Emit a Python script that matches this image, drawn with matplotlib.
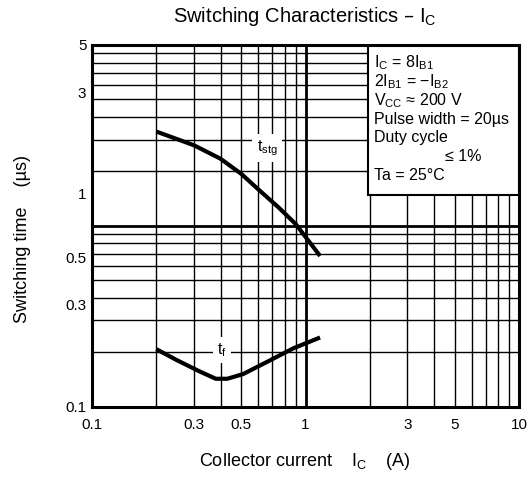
import matplotlib
matplotlib.use('Agg')
import matplotlib.pyplot as plt
from matplotlib.patches import Rectangle

plt.rcParams['font.family'] = ['Liberation Sans', 'DejaVu Sans']
plt.rcParams['mathtext.default'] = 'regular'

# curves
ic_tstg = [0.2, 0.3, 0.4, 0.5, 0.6, 0.75, 0.9, 1.17]
tstg = [1.96, 1.69, 1.46, 1.24, 1.05, 0.86, 0.72, 0.51]

ic_tf = [0.2, 0.25, 0.32, 0.38, 0.43, 0.51, 0.66, 0.88, 1.17]
tf = [0.186, 0.165, 0.146, 0.135, 0.135, 0.142, 0.162, 0.188, 0.211]

x_ticks = [0.1, 0.3, 0.5, 1, 3, 5, 10]
x_tick_labels = ['0.1', '0.3', '0.5', '1', '3', '5', '10']
y_ticks = [0.1, 0.3, 0.5, 1, 3, 5]
y_tick_labels = ['0.1', '0.3', '0.5', '1', '3', '5']

# grid of the printed sheet (its own two-decade scale on y)
x_grid = [0.2, 0.3, 0.4, 0.5, 0.6, 0.7, 0.8, 0.9, 2, 3, 4, 5, 6, 7, 8, 9]
y_grid = [0.2, 0.3, 0.4, 0.5, 0.6, 0.7, 0.8, 0.9, 2, 3, 4, 5, 6, 7, 8, 9]

legend_lines = ['I$_C$ = 8I$_{B1}$', '2I$_{B1}$ = \u2212I$_{B2}$', 'V$_{CC}$ \u2248 200 V',
                'Pulse width = 20\u00b5s', 'Duty cycle', None, 'Ta = 25\u00b0C']

fig = plt.figure(figsize=(5.32, 4.79), dpi=100)
ax = fig.add_axes([92/532, 1 - 406.5/479, 427/532, 361.5/479])

# horizontal grid on a twin axis
ax2 = ax.twinx()
ax2.set_yscale('log')
ax2.set_ylim(0.1, 10)
for v in y_grid:
    ax2.axhline(v, color='black', lw=1.0)
ax2.axhline(1, color='black', lw=2.0)
ax2.set_yticks([])
ax2.set_yticks([], minor=True)
for s in ax2.spines.values():
    s.set_visible(False)

ax.set_zorder(ax2.get_zorder() + 1)
ax.patch.set_visible(False)

ax.set_xscale('log')
ax.set_yscale('log')
ax.set_xlim(0.1, 10)
ax.set_ylim(0.1, 5)

for v in x_grid:
    ax.axvline(v, color='black', lw=1.0, zorder=1)
ax.axvline(1, color='black', lw=2.0, zorder=1)

ax.plot(ic_tstg, tstg, color='black', lw=3, solid_capstyle='butt', zorder=3)
ax.plot(ic_tf, tf, color='black', lw=3, solid_capstyle='butt', zorder=3)

ax.text(0.66, 1.635, 't$_{stg}$', fontsize=11.5, ha='center', va='center', zorder=4,
        bbox=dict(facecolor='white', edgecolor='none', pad=3))
ax.text(0.406, 0.184, 't$_f$', fontsize=11.5, ha='center', va='center', zorder=4,
        bbox=dict(facecolor='white', edgecolor='none', pad=3))

# conditions box
bx0 = (368 - 92) / 427
by0 = (406.5 - 195) / 361.5
ax.add_patch(Rectangle((bx0, by0), 1 - bx0, 1 - by0, transform=ax.transAxes,
                       facecolor='white', edgecolor='black', lw=1.5, zorder=5))
for i, line in enumerate(legend_lines):
    y = 1 - (63 - 45 + i * 18.7) / 361.5
    if line is None:
        ax.text((445 - 92) / 427, y, '\u2264 1%', transform=ax.transAxes,
                fontsize=11.5, va='center', ha='left', zorder=6)
    else:
        ax.text((374 - 92) / 427, y, line, transform=ax.transAxes,
                fontsize=11.5, va='center', ha='left', zorder=6)

ax.set_xticks(x_ticks)
ax.set_xticklabels(x_tick_labels)
ax.set_xticks([], minor=True)
ax.set_yticks(y_ticks)
ax.set_yticklabels(y_tick_labels)
ax.set_yticks([], minor=True)
ax.tick_params(axis='both', length=0, labelsize=11)
ax.tick_params(axis='x', pad=8)
ax.tick_params(axis='y', pad=4)

for s in ax.spines.values():
    s.set_linewidth(2.2)
    s.set_zorder(7)

fig.text(305 / 532, 1 - 17 / 479, 'Switching Characteristics \u2013 I$_C$',
         fontsize=14.5, ha='center', va='center')
fig.text(305 / 532, 1 - 462 / 479, 'Collector current    I$_C$    (A)',
         fontsize=13, ha='center', va='center')
fig.text(23 / 532, 1 - 239 / 479, 'Switching time    (\u00b5s)',
         fontsize=13, ha='center', va='center', rotation=90)

fig.savefig('out.png', dpi=100)
